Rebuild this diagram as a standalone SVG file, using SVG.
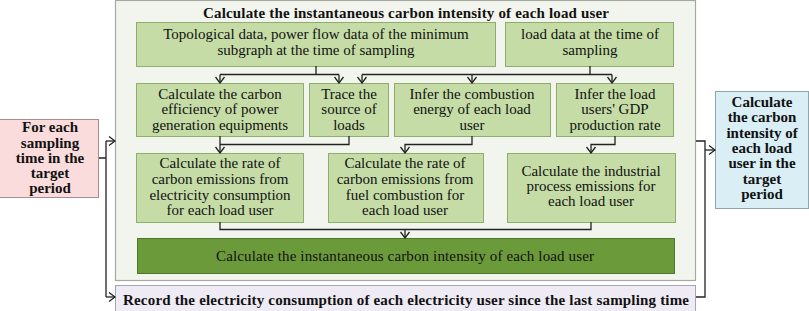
<svg xmlns="http://www.w3.org/2000/svg" width="809" height="311" viewBox="0 0 809 311">
<defs>
<style>
.t{font-family:"Liberation Serif","Times New Roman",serif;font-size:15px;fill:#111;text-anchor:middle}
.b{font-weight:bold}
.g{fill:#c5dca6;stroke:#8fae6e;stroke-width:1}
.c{fill:none;stroke:#222;stroke-width:1.3}
</style>
<marker id="ar" viewBox="0 0 10 10" refX="9" refY="5" markerWidth="10" markerHeight="10" markerUnits="userSpaceOnUse" orient="auto">
<path d="M3,0.5 L9,5 L3,9.5" fill="none" stroke="#222" stroke-width="1.3"/>
</marker>
</defs>
<rect width="809" height="311" fill="#fff"/>
<g id="container">
<rect x="115.5" y="0.5" width="580" height="280" fill="#f2f5ee" stroke="#a3aaa0" stroke-width="1.2"/>
<text class="t b" x="406" y="18" font-size="14" textLength="406" lengthAdjust="spacing">Calculate the instantaneous carbon intensity of each load user</text>
</g>
<g id="n_topo"><rect class="g" x="136.5" y="22.5" width="359" height="44"/>
<text class="t" x="316" y="39">Topological data, power flow data of the minimum</text>
<text class="t" x="316" y="55">subgraph at the time of sampling</text></g>
<g id="n_load"><rect class="g" x="505.5" y="22.5" width="168" height="44"/>
<text class="t" x="590" y="39">load data at the time of</text>
<text class="t" x="590" y="55">sampling</text></g>
<g id="n_eff"><rect class="g" x="136.5" y="83.5" width="167" height="53"/>
<text class="t" x="220" y="99">Calculate the carbon</text>
<text class="t" x="220" y="114">efficiency of power</text>
<text class="t" x="220" y="130">generation equipments</text></g>
<g id="n_trace"><rect class="g" x="309.5" y="83.5" width="79" height="53"/>
<text class="t" x="349" y="99">Trace the</text>
<text class="t" x="349" y="114">source of</text>
<text class="t" x="349" y="130">loads</text></g>
<g id="n_comb"><rect class="g" x="394.5" y="83.5" width="156" height="53"/>
<text class="t" x="472" y="99">Infer the combustion</text>
<text class="t" x="472" y="114">energy of each load</text>
<text class="t" x="472" y="130">user</text></g>
<g id="n_gdp"><rect class="g" x="556.5" y="83.5" width="117" height="53"/>
<text class="t" x="615" y="99">Infer the load</text>
<text class="t" x="615" y="114">users' GDP</text>
<text class="t" x="615" y="130">production rate</text></g>
<g id="n_elec"><rect class="g" x="136.5" y="153.5" width="167" height="69"/>
<text class="t" x="220" y="168">Calculate the rate of</text>
<text class="t" x="220" y="184">carbon emissions from</text>
<text class="t" x="220" y="200">electricity consumption</text>
<text class="t" x="220" y="215">for each load user</text></g>
<g id="n_fuel"><rect class="g" x="328.5" y="153.5" width="155" height="69"/>
<text class="t" x="405" y="168">Calculate the rate of</text>
<text class="t" x="405" y="184">carbon emissions from</text>
<text class="t" x="405" y="200">fuel combustion for</text>
<text class="t" x="405" y="215">each load user</text></g>
<g id="n_ind"><rect class="g" x="507.5" y="153.5" width="168" height="69"/>
<text class="t" x="591" y="176">Calculate the industrial</text>
<text class="t" x="591" y="191">process emissions for</text>
<text class="t" x="591" y="206">each load user</text></g>
<g id="n_inst"><rect x="137.5" y="238.5" width="537" height="35" fill="#6b9a3b" stroke="#4e7a28" stroke-width="1"/>
<text class="t" x="405" y="261" textLength="378" lengthAdjust="spacing">Calculate the instantaneous carbon intensity of each load user</text></g>
<g id="n_record"><rect x="115.5" y="285.5" width="580" height="26" fill="#eeebf4" stroke="#a8a4b3" stroke-width="1"/>
<text class="t b" x="406" y="305" textLength="566" lengthAdjust="spacing">Record the electricity consumption of each electricity user since the last sampling time</text></g>
<g id="n_start"><rect x="-0.5" y="119.5" width="99" height="78" fill="#fadcdc" stroke="#a88c8c" stroke-width="1"/>
<text class="t b" x="50" y="132">For each</text>
<text class="t b" x="50" y="147.5">sampling</text>
<text class="t b" x="50" y="162.5">time in the</text>
<text class="t b" x="50" y="178">target</text>
<text class="t b" x="50" y="193">period</text></g>
<g id="n_end"><rect x="715.5" y="91.5" width="93" height="117" fill="#d9eef5" stroke="#8fa6ad" stroke-width="1"/>
<text class="t b" x="762" y="107">Calculate</text>
<text class="t b" x="762" y="122">the carbon</text>
<text class="t b" x="762" y="138">intensity of</text>
<text class="t b" x="762" y="153">each load</text>
<text class="t b" x="762" y="168">user in the</text>
<text class="t b" x="762" y="184">target</text>
<text class="t b" x="762" y="199">period</text></g>
<g id="connectors">
<path class="c" d="M316,66 V74.5 M220,74.5 H339"/>
<path class="c" d="M220,74.5 V83" marker-end="url(#ar)"/>
<path class="c" d="M339,74.5 V83" marker-end="url(#ar)"/>
<path class="c" d="M590,66 V74.5 M362,74.5 H612"/>
<path class="c" d="M362,74.5 V83" marker-end="url(#ar)"/>
<path class="c" d="M472,74.5 V83" marker-end="url(#ar)"/>
<path class="c" d="M612,74.5 V83" marker-end="url(#ar)"/>
<path class="c" d="M349,136 V144.5 H220 M220,136 V153" marker-end="url(#ar)"/>
<path class="c" d="M472,136 V144.5 H405 V153" marker-end="url(#ar)"/>
<path class="c" d="M615,136 V144.5 H591 V153" marker-end="url(#ar)"/>
<path class="c" d="M220,222 V229.5 H591 V222 M405,229.5 V238" marker-end="url(#ar)"/>
<path class="c" d="M99,158 H106 M106,141 V297"/>
<path class="c" d="M106,141 H115" marker-end="url(#ar)"/>
<path class="c" d="M106,297 H115" marker-end="url(#ar)"/>
<path class="c" d="M696,141 H705 V297 H696"/>
<path class="c" d="M705,150 H715" marker-end="url(#ar)"/>
</g>
</svg>
